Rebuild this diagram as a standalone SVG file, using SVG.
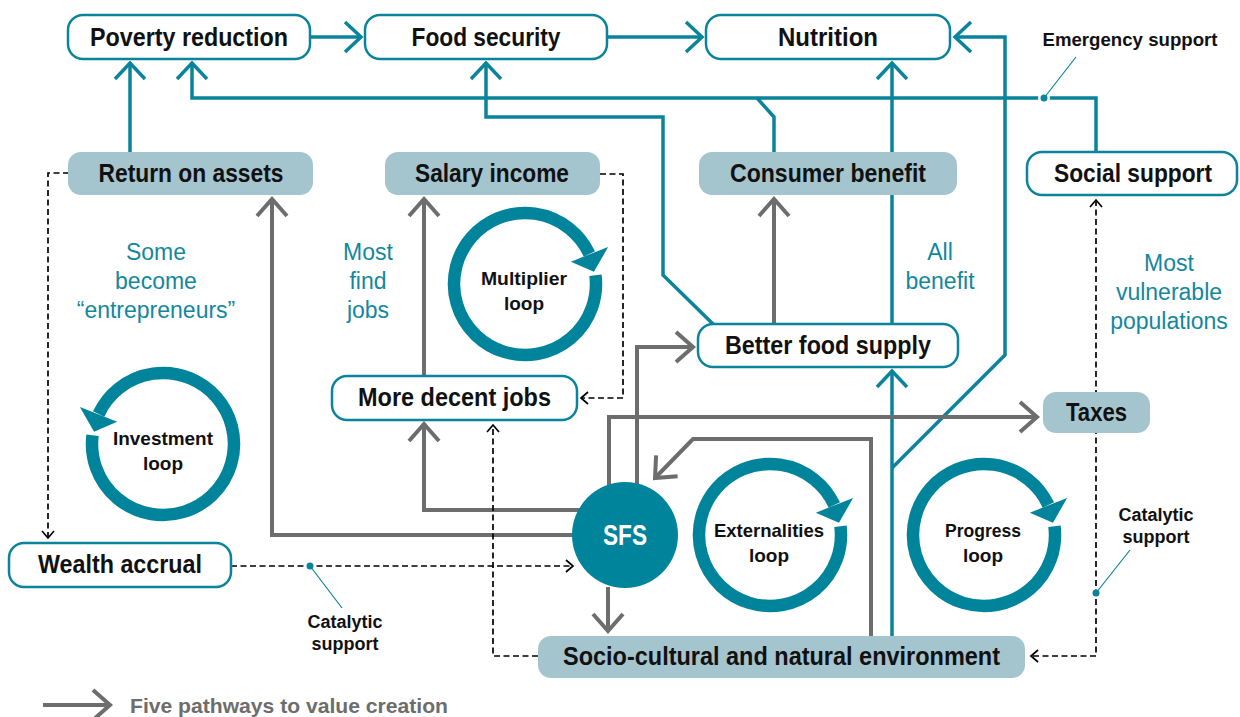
<svg xmlns="http://www.w3.org/2000/svg" xmlns:xlink="http://www.w3.org/1999/xlink" width="1240" height="717" viewBox="0 0 1240 717">
<style>
.bw{fill:#fff;stroke:#0a849b;stroke-width:2.5}
.bb{fill:#a4c4ce}
.lbl{font-family:"Liberation Sans",Arial,sans-serif;font-weight:bold;font-size:25px;fill:#111;text-anchor:middle}
.lt{font-family:"Liberation Sans",Arial,sans-serif;font-weight:bold;font-size:19px;fill:#111;text-anchor:middle}
.sm{font-family:"Liberation Sans",Arial,sans-serif;font-weight:bold;font-size:18px;fill:#111;text-anchor:middle}
.note{font-family:"Liberation Sans",Arial,sans-serif;font-size:23px;fill:#13879e;text-anchor:middle}
.teal{fill:none;stroke:#0a849b;stroke-width:3.5}
.gray{fill:none;stroke:#6d6d6d;stroke-width:4}
.dash{fill:none;stroke:#000;stroke-width:1.7;stroke-dasharray:6 3.5}
.lead{fill:none;stroke:#0a849b;stroke-width:1.2}
.dot{fill:#0a849b}
</style>
<defs>
<marker id="aTeal" markerUnits="userSpaceOnUse" viewBox="-20 -20 40 40" markerWidth="40" markerHeight="40" refX="0" refY="0" orient="auto" overflow="visible">
<path d="M-16,-15 L0,0 L-16,15" fill="none" stroke="#0a849b" stroke-width="3.5"/>
</marker>
<marker id="aGray" markerUnits="userSpaceOnUse" viewBox="-20 -20 40 40" markerWidth="40" markerHeight="40" refX="0" refY="0" orient="auto" overflow="visible">
<path d="M-17,-15 L0,0 L-17,15" fill="none" stroke="#6d6d6d" stroke-width="4"/>
</marker>
<marker id="aDash" markerUnits="userSpaceOnUse" viewBox="-10 -10 20 20" markerWidth="20" markerHeight="20" refX="0" refY="0" orient="auto-start-reverse" overflow="visible">
<path d="M-7,-6 L0,0 L-7,6" fill="none" stroke="#000" stroke-width="1.7"/>
</marker>
<g id="loopCW">
<path d="M70.47,-8.65 A71,71 0 1 1 64.35,-30.01" fill="none" stroke="#00849b" stroke-width="12.5"/>
<polygon points="45.84,-22.36 83.13,-37.01 68.94,-12.16" fill="#00849b"/>
</g>
</defs>

<g id="connectors">
<!-- teal outcome links -->
<path class="teal" d="M310,37 H361" marker-end="url(#aTeal)"/>
<path class="teal" d="M607,37 H702" marker-end="url(#aTeal)"/>
<path class="teal" d="M130,152 V63" marker-end="url(#aTeal)"/>
<path class="teal" d="M1096,152 V98 H192 V63" marker-end="url(#aTeal)"/>
<path class="teal" d="M774,152 V117 L757,98"/>
<path class="teal" d="M714,325 L663,275 V117 H486 V63" marker-end="url(#aTeal)"/>
<path class="teal" d="M892,324 V63" marker-end="url(#aTeal)"/>
<path class="teal" d="M892,636 V371" marker-end="url(#aTeal)"/>
<path class="teal" d="M892,468 L1005,355 V37 H955" marker-end="url(#aTeal)"/>
<!-- gray pathways -->
<path class="gray" d="M580,535 H272 V199" marker-end="url(#aGray)"/>
<path class="gray" d="M590,510 H424 V424" marker-end="url(#aGray)"/>
<path class="gray" d="M424,376 V199" marker-end="url(#aGray)"/>
<path class="gray" d="M774,324 V199" marker-end="url(#aGray)"/>
<path class="gray" d="M637,490 V347 H693" marker-end="url(#aGray)"/>
<path class="gray" d="M609,495 V417 H1037" marker-end="url(#aGray)"/>
<path class="gray" d="M871,636 V439 H693 L655,478" marker-end="url(#aGray)"/>
<path class="gray" d="M608,587 V631" marker-end="url(#aGray)"/>
<!-- dashed support links -->
<path class="dash" d="M69,173 H48 V538" marker-end="url(#aDash)"/>
<path class="dash" d="M600,174 H623 V398 H581" marker-end="url(#aDash)"/>
<path class="dash" d="M231,566 H573" marker-end="url(#aDash)"/>
<path class="dash" d="M538,656 H493 V425" marker-end="url(#aDash)"/>
<path class="dash" d="M1096,200 V656 H1031" marker-start="url(#aDash)" marker-end="url(#aDash)"/>
<!-- annotation markers -->
<circle cx="1044" cy="98" r="6" fill="#fff"/>
<circle class="dot" cx="1044" cy="98" r="3.5"/>
<path class="lead" d="M1044,98 L1076,57"/>
<circle class="dot" cx="310" cy="566" r="3.5"/>
<path class="lead" d="M310,566 L342,608"/>
<circle class="dot" cx="1096" cy="593" r="3.5"/>
<path class="lead" d="M1096,593 L1130,550"/>
</g>

<g id="node-poverty"><rect class="bw" x="68" y="15" width="242" height="44" rx="15"/><text class="lbl" x="189" y="46" textLength="198" lengthAdjust="spacingAndGlyphs">Poverty reduction</text></g>
<g id="node-food"><rect class="bw" x="365" y="15" width="242" height="44" rx="15"/><text class="lbl" x="486" y="46" textLength="149" lengthAdjust="spacingAndGlyphs">Food security</text></g>
<g id="node-nutrition"><rect class="bw" x="706" y="15" width="244" height="44" rx="15"/><text class="lbl" x="828" y="46" textLength="100" lengthAdjust="spacingAndGlyphs">Nutrition</text></g>

<g id="node-return"><rect class="bb" x="68" y="152" width="245" height="43" rx="13"/><text class="lbl" x="191" y="182" textLength="185" lengthAdjust="spacingAndGlyphs">Return on assets</text></g>
<g id="node-salary"><rect class="bb" x="385" y="152" width="215" height="43" rx="13"/><text class="lbl" x="492" y="182" textLength="154" lengthAdjust="spacingAndGlyphs">Salary income</text></g>
<g id="node-consumer"><rect class="bb" x="699" y="152" width="258" height="43" rx="13"/><text class="lbl" x="828" y="182" textLength="196" lengthAdjust="spacingAndGlyphs">Consumer benefit</text></g>
<g id="node-social"><rect class="bw" x="1027" y="152" width="210" height="43" rx="15"/><text class="lbl" x="1133" y="182" textLength="158" lengthAdjust="spacingAndGlyphs">Social support</text></g>

<g id="node-better"><rect class="bw" x="698" y="324" width="260" height="43" rx="15"/><text class="lbl" x="828" y="354" textLength="206" lengthAdjust="spacingAndGlyphs">Better food supply</text></g>
<g id="node-jobs"><rect class="bw" x="332" y="376" width="245" height="44" rx="15"/><text class="lbl" x="454.5" y="406" textLength="193" lengthAdjust="spacingAndGlyphs">More decent jobs</text></g>
<g id="node-taxes"><rect class="bb" x="1043" y="392" width="107" height="41" rx="13"/><text class="lbl" x="1096.5" y="421" textLength="61" lengthAdjust="spacingAndGlyphs">Taxes</text></g>
<g id="node-wealth"><rect class="bw" x="9" y="543" width="222" height="44" rx="15"/><text class="lbl" x="120" y="573" textLength="164" lengthAdjust="spacingAndGlyphs">Wealth accrual</text></g>
<g id="node-env"><rect class="bb" x="538" y="636" width="487" height="42" rx="13"/><text class="lbl" x="781.5" y="665" textLength="437" lengthAdjust="spacingAndGlyphs">Socio-cultural and natural environment</text></g>

<g id="node-sfs"><circle cx="625" cy="535" r="53" fill="#00849b"/><text x="625" y="545" font-family="Liberation Sans, Arial, sans-serif" font-weight="bold" font-size="30" fill="#fff" text-anchor="middle" textLength="44" lengthAdjust="spacingAndGlyphs">SFS</text></g>

<g id="loop-multiplier"><use xlink:href="#loopCW" href="#loopCW" transform="translate(525,284)"/><text class="lt" x="524" y="285" textLength="86" lengthAdjust="spacingAndGlyphs">Multiplier</text><text class="lt" x="524" y="310">loop</text></g>
<g id="loop-investment"><use xlink:href="#loopCW" href="#loopCW" transform="translate(163,444) scale(-1,1)"/><text class="lt" x="163" y="445" textLength="100" lengthAdjust="spacingAndGlyphs">Investment</text><text class="lt" x="163" y="470">loop</text></g>
<g id="loop-externalities"><use xlink:href="#loopCW" href="#loopCW" transform="translate(770,535)"/><text class="lt" x="769" y="537" textLength="110" lengthAdjust="spacingAndGlyphs">Externalities</text><text class="lt" x="769" y="562">loop</text></g>
<g id="loop-progress"><use xlink:href="#loopCW" href="#loopCW" transform="translate(984,535)"/><text class="lt" x="983" y="537" textLength="76" lengthAdjust="spacingAndGlyphs">Progress</text><text class="lt" x="983" y="562">loop</text></g>

<g id="notes">
<text class="note" x="156" y="260">Some</text>
<text class="note" x="156" y="289">become</text>
<text class="note" x="156" y="318">“entrepreneurs”</text>
<text class="note" x="368" y="260">Most</text>
<text class="note" x="368" y="289">find</text>
<text class="note" x="368" y="318">jobs</text>
<text class="note" x="940" y="260">All</text>
<text class="note" x="940" y="289">benefit</text>
<text class="note" x="1169" y="271">Most</text>
<text class="note" x="1169" y="300">vulnerable</text>
<text class="note" x="1169" y="329">populations</text>
<text class="sm" x="1130" y="46" textLength="175" lengthAdjust="spacingAndGlyphs">Emergency support</text>
<text class="sm" x="345" y="628">Catalytic</text>
<text class="sm" x="345" y="650">support</text>
<text class="sm" x="1156" y="521">Catalytic</text>
<text class="sm" x="1156" y="543">support</text>
</g>

<g id="legend">
<path class="gray" d="M43,705 H110" marker-end="url(#aGray)"/>
<text x="130" y="713" font-family="Liberation Sans, Arial, sans-serif" font-weight="bold" font-size="21" fill="#6d6d6d" textLength="318" lengthAdjust="spacingAndGlyphs">Five pathways to value creation</text>
</g>
</svg>
